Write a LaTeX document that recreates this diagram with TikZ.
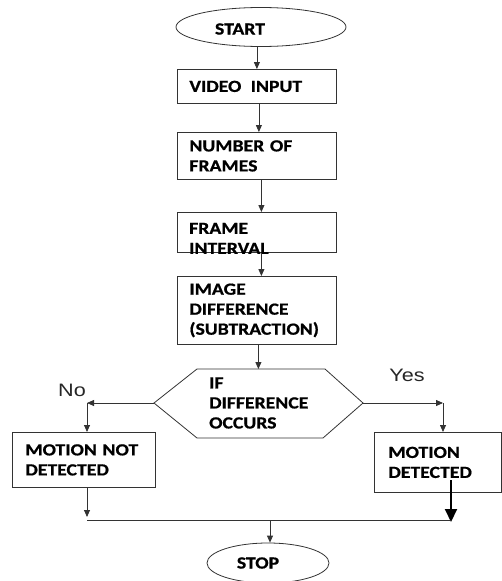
\documentclass[tikz,border=0pt]{standalone}
\usepackage{fontspec}
\usetikzlibrary{arrows.meta,shapes.geometric}
\newfontfamily\boxface{Carlito}[FakeStretch=1.16, FakeBold=0.8]
\newfontfamily\labelface{Liberation Sans}[FakeStretch=1.2]
\newcommand\boxtxt{\boxface\bfseries\fontsize{17}{20}\selectfont}
\newcommand\lbltxt{\labelface\fontsize{18}{20}\selectfont}
\tikzset{
  edge/.style={draw=black!80, line width=0.8pt},
  box/.style={edge, rectangle, anchor=north west, inner xsep=12pt, inner ysep=0pt,
    align=left, font=\boxtxt, text=black},
  oval/.style={edge, ellipse, inner sep=0pt},
  txt/.style={font=\boxtxt, text=black, inner sep=0pt, align=left},
  lbl/.style={font=\lbltxt, text=black!85, inner sep=0pt},
  arr/.style={edge, -{Triangle[length=7pt,width=6pt]}},
  bigarr/.style={draw=black, line width=2pt, -{Triangle[length=13pt,width=12pt]}}
}
\begin{document}
\begin{tikzpicture}[x=1pt,y=-1pt]
\useasboundingbox (0,0) rectangle (501,581);

% terminals
\node[oval, minimum width=170pt, minimum height=39pt] (start) at (261,27) {};
\node[txt] at ([xshift=-21pt,yshift=-2pt]start.center) {START};
\node[oval, minimum width=122pt, minimum height=40pt] (stop) at (268,563) {};
\node[txt] at ([xshift=-10pt]stop.center) {STOP};

% process boxes
\node[box, minimum width=159pt, text width=135pt, minimum height=34pt] (vi) at (177,69) {VIDEO\hspace{0.55em}INPUT};
\node[box, minimum width=159pt, text width=135pt, minimum height=47pt] (nf) at (177,132) {NUMBER OF\\FRAMES};
\node[box, minimum width=159pt, text width=135pt, minimum height=40pt] (fi) at (177,212) {};
\node[txt, anchor=west] at ([xshift=12pt,yshift=-6pt]fi.west) {FRAME\\INTERVAL};
\node[box, minimum width=159pt, text width=135pt, minimum height=68pt] (id) at (177,276) {IMAGE\\DIFFERENCE\\(SUBTRACTION)};

% decision
\coordinate (h1) at (197,369);
\coordinate (h2) at (325,369);
\coordinate (hr) at (363,403);
\coordinate (h4) at (323,438);
\coordinate (h5) at (197,438);
\coordinate (hl) at (154,403);
\draw[edge] (h1) -- (h2) -- (hr) -- (h4) -- (h5) -- (hl) -- cycle;
\node[txt, anchor=west] (dec) at (209,403) {IF\\DIFFERENCE\\OCCURS};

% outcomes
\node[box, minimum width=142pt, text width=117pt, inner xsep=13pt, minimum height=55pt] (mnd) at (12,432) {MOTION NOT\\DETECTED};
\node[box, minimum width=127pt, text width=99pt, inner xsep=14pt, minimum height=60pt] (md) at (374,432) {MOTION\\DETECTED};

\node[lbl] (no) at (72,390) {No};
\node[lbl] (yes) at (407,375) {Yes};

% junction points
\coordinate (nj) at (87,403);
\coordinate (yj) at (443,403);
\coordinate (mndend) at (87,517);
\coordinate (busl) at (87,520);
\coordinate (busr) at (450,520);
\coordinate (mdtop) at (451,480);
\coordinate (mdend) at (451,522);
\coordinate (tap) at (270,520);

% main flow
\draw[arr] (vi.north |- start.south) -- (vi.north);
\draw[arr] ([xshift=2pt]vi.south) -- ([xshift=2pt]nf.north);
\draw[arr] ([xshift=4.5pt]nf.south) -- ([xshift=4.5pt]fi.north);
\draw[arr] ([xshift=4.5pt]fi.south) -- ([xshift=4.5pt]id.north);
\draw[arr] ([xshift=1.5pt]id.south) -- ([xshift=1.5pt]id.south |- h1);

% branches
\draw[arr] (hl) -- (nj);
\draw[arr] (nj) -- (nj |- mnd.north);
\draw[arr] (hr) -- (yj);
\draw[arr] (yj) -- (yj |- md.north);

% merge
\draw[arr] (nj |- mnd.south) -- (mndend);
\draw[edge] (busl) -- (busr);
\draw[bigarr] (mdtop) -- (mdend);
\draw[arr] (tap) -- (tap |- stop.north);
\end{tikzpicture}
\end{document}
